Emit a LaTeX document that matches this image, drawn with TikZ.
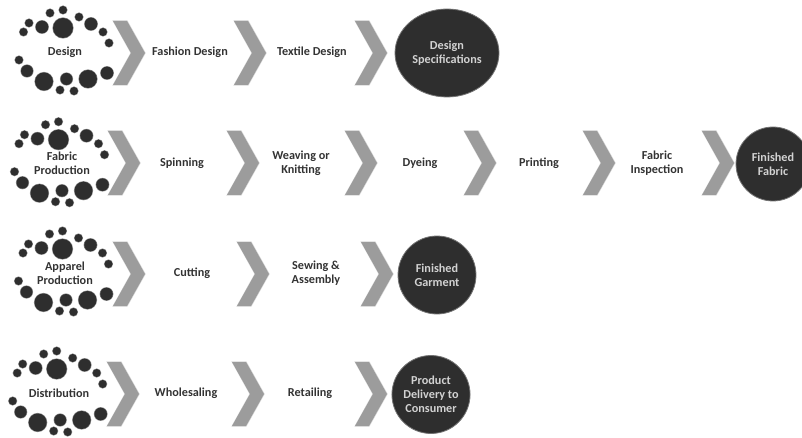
\documentclass[tikz,border=0pt]{standalone}
\usepackage{fontspec}
\setmainfont{Carlito}
\usetikzlibrary{shapes.geometric}
\definecolor{dotdark}{HTML}{2E2E2E}
\definecolor{chevgray}{HTML}{9C9C9C}
\definecolor{inklabel}{HTML}{333333}
\definecolor{inkpale}{HTML}{D2D2D2}
\tikzset{
  labeltext/.style={font=\bfseries\fontsize{12.2}{14}\selectfont, text=inklabel, align=center, inner sep=0pt},
  endcap/.style={shape=ellipse, fill=dotdark, inner sep=0pt, align=center, text=inkpale,
     font=\bfseries\fontsize{12.2}{14}\selectfont, draw=black!55, line width=0.8pt},
  pics/chevron/.style={code={
     \fill[chevgray!40] (-0.7,-32.6) -- (14.4,-32.6) -- (32.7,0) -- (14.4,32.6) -- (-0.7,32.6) -- (17.4,0) -- cycle;
     \fill[chevgray] (0,-32) -- (14,-32) -- (32,0) -- (14,32) -- (0,32) -- (18,0) -- cycle;
  }},
  pics/dotring/.style={code={
     \foreach \px/\py/\pr in {63/28/10, 42/27/6.3, 50/13/4, 63/10/4, 79/17/4, 91/24/6.3, 103/32/4, 109/43/4,
        23.5/32/4, 29/23/4, 19/60/4, 27/71/6, 44/81.5/9, 66.5/79/6, 88/79/9, 107/73/6.3, 60/90/4, 74/91/4}{
        \fill[black!45] (\px,\py) circle[radius=\pr+0.6];
        \fill[dotdark] (\px,\py) circle[radius=\pr];
     }
  }}
}
\begin{document}
\begin{tikzpicture}[x=1pt,y=-1pt]
\useasboundingbox (0,0) rectangle (802,438);
\clip (0,0) rectangle (802,438);
% dot rings
\pic at (0,0) {dotring};
\pic at (-4.5,111.7) {dotring};
\pic at (-0.5,221) {dotring};
\pic at (-6.3,341) {dotring};
% chevrons
\foreach \cx/\cy in {113/53, 234/53, 355/53,
   108/163, 227/163, 345/163, 464/163, 583/163, 702/163,
   113/274, 237/274, 361/274,
   107/394, 232/394, 355/394}{
  \pic at (\cx,\cy) {chevron};
}
% row 1
\node[labeltext] (design) at (65,52) {Design};
\node[labeltext] (fashion) at (190,52) {Fashion Design};
\node[labeltext] (textile) at (312,52) {Textile Design};
\node[endcap, minimum width=104pt, minimum height=88pt] (specs) at (447,53) {Design\\Specifications};
% row 2
\node[labeltext] (fabricprod) at (62,163) {Fabric\\Production};
\node[labeltext] (spinning) at (182,163) {Spinning};
\node[labeltext] (weaving) at (301,163) {Weaving or\\Knitting};
\node[labeltext] (dyeing) at (420,163) {Dyeing};
\node[labeltext] (printing) at (539,163) {Printing};
\node[labeltext] (inspection) at (657,163) {Fabric\\Inspection};
\node[endcap, minimum width=74pt, minimum height=74pt] (finfabric) at (773,164) {Finished\\Fabric};
% row 3
\node[labeltext] (apparel) at (65,273) {Apparel\\Production};
\node[labeltext] (cutting) at (192,273) {Cutting};
\node[labeltext] (sewing) at (316,273) {Sewing \&\\Assembly};
\node[endcap, minimum width=78pt, minimum height=78pt] (garment) at (437,275) {Finished\\Garment};
% row 4
\node[labeltext] (distribution) at (59,393) {Distribution};
\node[labeltext] (wholesaling) at (186,393) {Wholesaling};
\node[labeltext] (retailing) at (310,393) {Retailing};
\node[endcap, minimum width=78pt, minimum height=78pt] (delivery) at (431,394.5) {Product\\Delivery to\\Consumer};
\end{tikzpicture}
\end{document}
